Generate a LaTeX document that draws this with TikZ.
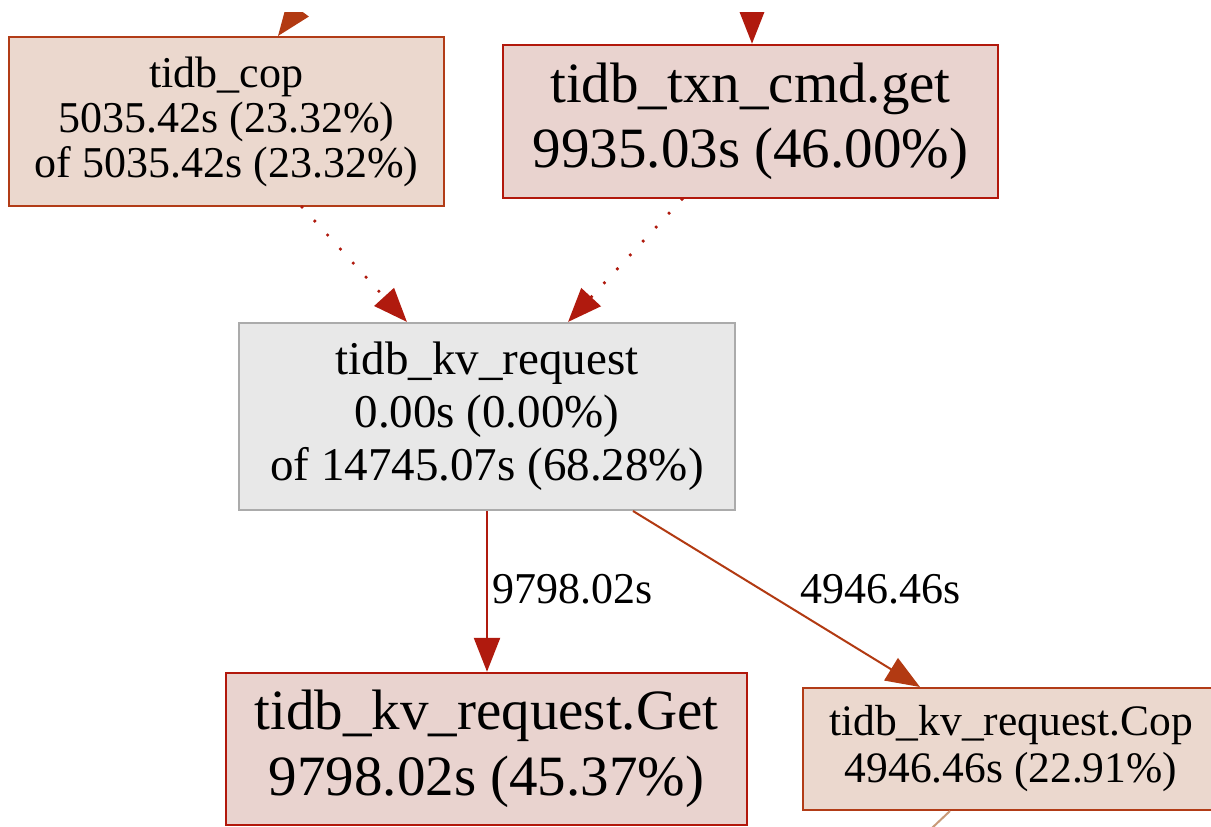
\documentclass[tikz,border=0pt]{standalone}
\usepackage{fontspec}
\setmainfont{Liberation Serif}
\usetikzlibrary{arrows.meta}
\definecolor{warmfill}{HTML}{EBD8CE}
\definecolor{warmline}{HTML}{B23C17}
\definecolor{hotfill}{HTML}{E9D3CF}
\definecolor{hotline}{HTML}{B2180C}
\definecolor{grayfill}{HTML}{E8E8E8}
\definecolor{grayline}{HTML}{ABABAB}
\definecolor{edgehot}{HTML}{B01A0E}
\definecolor{edgewarm}{HTML}{B23A12}
\definecolor{edgetan}{HTML}{C89A78}
\tikzset{
  box/.style={draw, rectangle, inner sep=0pt, align=center, text=black},
  warmbox/.style={box, fill=warmfill, draw=warmline, line width=2pt},
  hotbox/.style={box, fill=hotfill, draw=hotline, line width=2.5pt},
  graybox/.style={box, fill=grayfill, draw=grayline, line width=2pt},
  tip/.style={-{Triangle[length=34pt,width=26pt]}},
  dotedge/.style={tip, color=edgehot, line width=3.6pt, line cap=round, dash pattern=on 0pt off 19pt},
  elabel/.style={anchor=base west, inner sep=0pt, font=\fontsize{44}{50}\selectfont}
}
\begin{document}
\begin{tikzpicture}[x=1pt,y=-1pt]
\useasboundingbox (0,0) rectangle (1211,827);
\fill[white] (0,0) rectangle (1211,827);
\begin{scope}
\clip (0,0) rectangle (1211,827);

\node[warmbox, minimum width=435pt, minimum height=169pt, font=\fontsize{44}{45}\selectfont] (cop) at (226.5,121.5)
  {tidb\_cop\\5035.42s (23.32\%)\\of 5035.42s (23.32\%)};
\node[hotbox, minimum width=495pt, minimum height=153pt, font=\fontsize{57}{65}\selectfont] (txn) at (750.5,121.5)
  {tidb\_txn\_cmd.get\\9935.03s (46.00\%)};
\node[graybox, minimum width=496pt, minimum height=187pt, font=\fontsize{47}{53}\selectfont] (kv) at (487,416.5)
  {tidb\_kv\_request\\0.00s (0.00\%)\\of 14745.07s (68.28\%)};
\node[hotbox, minimum width=521pt, minimum height=152pt, font=\fontsize{57}{66}\selectfont] (get) at (486.5,749)
  {tidb\_kv\_request.Get\\9798.02s (45.37\%)};
\node[warmbox, minimum width=416pt, minimum height=122pt, font=\fontsize{43.5}{47}\selectfont] (copreq) at (1011,749)
  {tidb\_kv\_request.Cop\\4946.46s (22.91\%)};

\coordinate (copin) at (329,-33);
\coordinate (txnin) at (752,-40);
\coordinate (copout) at (915,844);

\begin{scope}
\clip (0,12) rectangle (1211,827);
\draw[tip, color=edgewarm, line width=2pt] (copin) -- ([xshift=51.5pt]cop.north);
\draw[tip, color=edgehot, line width=2.5pt] (txnin) -- (txnin |- txn.north);
\end{scope}

\draw[dotedge] ([xshift=75.5pt]cop.south) -- ([xshift=-80pt]kv.north);
\draw[dotedge] ([xshift=-68.5pt]txn.south) -- ([xshift=81pt]kv.north);

\draw[tip, color=edgehot, line width=2.5pt] (kv.south) -- (kv.south |- get.north);
\draw[tip, color=edgewarm, line width=2pt] ([xshift=146pt]kv.south) -- ([xshift=-91pt]copreq.north);
\draw[color=edgetan, line width=2pt] ([xshift=-61pt]copreq.south) -- (copout);

\node[elabel] (lget) at (492,603) {9798.02s};
\node[elabel] (lcop) at (800,603) {4946.46s};
\end{scope}
\end{tikzpicture}
\end{document}
